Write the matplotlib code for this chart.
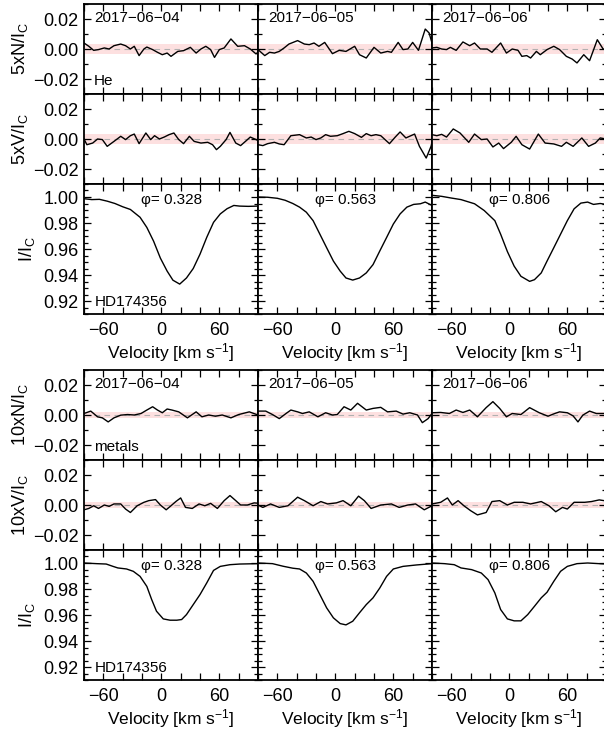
import numpy as np
import matplotlib
matplotlib.use('Agg')
import matplotlib.pyplot as plt
from matplotlib.ticker import MultipleLocator

plt.rcParams['font.family'] = ['Liberation Sans', 'DejaVu Sans']
plt.rcParams['mathtext.fontset'] = 'custom'
plt.rcParams['mathtext.rm'] = 'Liberation Sans'
plt.rcParams['mathtext.it'] = 'Liberation Sans'

dates = ['2017\u221206\u221204', '2017\u221206\u221205', '2017\u221206\u221206']
phases = ['0.328', '0.563', '0.806']
star = 'HD174356'

# ---- He lines: null profile N (x5), Stokes V (x5), Stokes I ----
he_N_vel = [
    [-80, -75, -70, -65, -59, -54, -49, -42, -37, -32, -28, -23, -18, -15, -9, -4, 1, 6, 10, 17, 23, 30, 36, 41, 46, 51, 55, 60, 65, 72, 79, 86, 92, 98, 100],
    [-80, -73, -68, -63, -58, -53, -48, -39, -32, -27, -22, -17, -11, -3, 4, 11, 20, 25, 32, 40, 47, 54, 58, 65, 70, 75, 80, 86, 93, 97, 100],
    [-80, -75, -70, -65, -61, -55, -48, -41, -36, -30, -23, -18, -9, -3, 3, 9, 13, 18, 22, 28, 32, 39, 46, 52, 59, 65, 70, 77, 83, 91, 97, 100],
]
he_N = [
    [0.004, 0.0018, -0.0009, -0.0004, 0.0007, 0, 0.0022, 0.0033, 0.0022, 0, 0.0018, -0.0044, 0, 0.0013, -0.0004, -0.0022, -0.0038, -0.0027, -0.0049, -0.0016, -0.0011, 0.0011, -0.0027, 0, 0.0018, -0.0004, -0.0056, -0.0004, 0.0007, 0.0067, 0.0018, 0.0022, 0, -0.0033, -0.002],
    [-0.0004, -0.0044, -0.0022, -0.0027, -0.0016, 0.0007, 0.0033, 0.0056, 0.0033, 0.0029, 0.004, 0.0018, 0.0044, -0.0031, -0.0009, -0.0016, 0.0018, -0.0038, -0.006, 0.0011, -0.0027, -0.0016, -0.0022, 0.0044, -0.0004, 0, 0.0044, -0.0009, 0.0133, 0.0107, 0.004],
    [0.0007, 0.0011, 0, -0.0004, 0.0011, -0.0009, 0.0047, 0.0022, 0.004, 0, 0, -0.0022, 0.004, -0.0027, 0, -0.0009, -0.0049, -0.0044, -0.006, -0.0016, -0.0038, -0.0004, 0.0018, -0.0004, -0.0049, -0.0067, -0.0093, -0.0038, -0.0078, 0.0062, 0, -0.0004],
]
he_V_vel = [
    [-80, -77, -71, -66, -61, -56, -49, -42, -37, -32, -28, -23, -16, -11, -7, -2, 3, 8, 13, 18, 23, 29, 34, 41, 48, 53, 57, 61, 67, 71, 77, 82, 87, 92, 98, 100],
    [-80, -75, -70, -63, -58, -53, -46, -37, -30, -25, -20, -15, -10, -5, 2, 8, 14, 20, 27, 32, 37, 42, 47, 56, 62, 67, 73, 82, 87, 94, 99, 100],
    [-80, -75, -70, -65, -58, -51, -42, -36, -29, -23, -17, -11, -6, 2, 7, 13, 21, 30, 37, 46, 54, 59, 66, 75, 82, 89, 94, 100],
]
he_V = [
    [0, -0.0038, -0.0027, 0, -0.0004, -0.0049, -0.0016, 0.0018, -0.0004, 0.0022, 0.0033, -0.0031, 0.004, -0.0004, 0.0022, 0, 0.0013, 0.0029, 0.004, -0.0004, -0.0031, 0.0018, -0.0016, -0.0027, -0.0022, -0.0038, -0.0071, -0.0049, -0.0004, 0.0044, -0.0027, -0.0044, -0.0016, 0.0013, -0.0004, -0.001],
    [-0.0038, -0.0044, -0.0031, -0.0022, -0.0033, -0.0038, 0.0022, 0.0029, 0.0007, 0.0013, -0.0004, 0.0007, 0.0029, 0.0018, 0.0022, 0.0036, 0.0051, 0.0036, 0.0011, 0.0036, 0.0022, 0.0029, 0.0022, -0.0031, 0.0013, 0.0047, 0.0007, 0.0033, -0.0049, -0.0127, -0.0049, -0.002],
    [0.0029, 0.0022, 0.0031, 0.0013, 0.0067, 0.004, -0.0022, 0.0033, -0.0004, 0, -0.0053, -0.0027, -0.0064, -0.0022, 0.0018, -0.0038, -0.0067, 0.0033, -0.0027, -0.0033, -0.0049, -0.0022, -0.0049, 0.0007, -0.0049, -0.0027, 0.0007, 0],
]
he_I_vel = [
    [-80, -72, -64, -56, -48, -40, -32, -22, -15, -8, -1, 6, 12, 19, 26, 33, 40, 47, 54, 61, 68, 75, 81, 90, 100],
    [-80, -70, -60, -52, -44, -37, -30, -23, -16, -9, -2, 5, 11, 18, 25, 32, 39, 46, 53, 60, 67, 74, 81, 88, 93, 100],
    [-80, -70, -60, -50, -36, -26, -15, -9, -2, 5, 12, 21, 26, 33, 39, 46, 53, 60, 67, 74, 81, 87, 94, 100],
]
he_I = [
    [0.9987, 0.998, 0.9982, 0.9968, 0.995, 0.9925, 0.9904, 0.9844, 0.9766, 0.966, 0.953, 0.943, 0.936, 0.933, 0.9377, 0.945, 0.956, 0.969, 0.9805, 0.987, 0.991, 0.9935, 0.993, 0.9928, 0.993],
    [1.0, 0.9998, 0.999, 0.9975, 0.995, 0.9922, 0.9883, 0.9818, 0.9714, 0.961, 0.9507, 0.943, 0.9377, 0.9361, 0.9377, 0.9416, 0.948, 0.9585, 0.9688, 0.9792, 0.987, 0.9922, 0.9943, 0.9948, 0.9961, 0.9935],
    [1.0013, 1.0005, 0.9992, 0.998, 0.9948, 0.9896, 0.9818, 0.9714, 0.958, 0.9468, 0.939, 0.9351, 0.9364, 0.9416, 0.9507, 0.961, 0.9714, 0.9818, 0.9909, 0.9953, 0.9961, 0.9943, 0.995, 0.9943],
]

# ---- metal lines: N (x10), V (x10), I ----
met_N_vel = [
    [-80, -73, -66, -61, -55, -49, -42, -35, -28, -21, -15, -9, -4, 1, 6, 11, 18, 27, 36, 42, 49, 56, 63, 72, 80, 91, 100],
    [-80, -72, -65, -58, -51, -46, -39, -34, -27, -18, -10, -3, 2, 9, 16, 23, 32, 39, 47, 54, 63, 70, 77, 85, 90, 96, 100],
    [-80, -71, -62, -55, -48, -41, -33, -24, -17, -10, -3, 3, 12, 21, 31, 40, 47, 52, 60, 66, 71, 76, 83, 90, 98, 100],
]
met_N = [
    [0.001, 0.0026, -0.0012, -0.0019, -0.0046, -0.0019, -0.0001, 0.0003, 0, 0.001, 0.0033, 0.0055, 0.0033, 0.0015, 0.004, 0.0033, 0.0021, -0.0019, 0.0021, -0.0012, 0, -0.0008, 0, -0.0019, 0.0003, 0.0021, 0],
    [0.0026, 0.0026, 0.0003, -0.0024, 0.001, 0.0033, 0.0021, 0.001, 0.0021, -0.0012, 0.0015, 0, 0.0003, 0.0055, 0.0033, 0.0078, 0.0033, 0.0044, 0.0051, 0.0021, 0.0026, 0.0006, 0.0015, 0, -0.0051, -0.0024, 0.001],
    [0.0015, 0.0017, 0.001, 0.0033, 0.0017, 0.0033, -0.0012, 0.0049, 0.0089, 0.0044, -0.0012, 0.001, 0.0003, 0.0049, 0.0015, -0.0008, 0.001, 0.0021, 0.0015, -0.0006, -0.0046, -0.0001, 0.0026, 0.001, 0.001, 0.001],
]
met_V_vel = [
    [-80, -75, -70, -65, -59, -54, -49, -42, -37, -32, -25, -18, -13, -6, -1, 5, 10, 15, 20, 25, 32, 39, 45, 51, 58, 65, 71, 77, 82, 89, 96, 100],
    [-80, -75, -67, -58, -49, -39, -32, -23, -15, -8, 1, 8, 16, 24, 30, 37, 47, 58, 66, 75, 83, 92, 100],
    [-80, -71, -64, -59, -53, -47, -40, -33, -24, -18, -10, -2, 5, 14, 22, 33, 41, 48, 55, 60, 67, 78, 85, 93, 98, 100],
]
met_V = [
    [-0.0032, -0.0023, -0.0005, -0.0023, 0, -0.0009, 0.0007, 0.0007, -0.0027, -0.005, -0.0005, 0.0018, 0.0029, 0.0036, 0, -0.0032, -0.0005, 0.0023, 0.0047, -0.0016, -0.0023, 0.0007, -0.0005, 0.0011, -0.0023, 0.0029, 0.0063, 0.0029, 0, 0, 0.0014, 0.0012],
    [0, -0.0016, 0.0007, -0.0016, -0.0005, 0.0052, 0.0029, -0.0005, 0.0023, 0.0007, 0.0014, 0.0029, -0.0005, 0.0059, 0.0029, -0.0023, 0, 0.0007, -0.0016, 0, 0.0007, -0.0032, -0.0005],
    [0.0007, 0.0018, 0.0047, 0, 0.0029, -0.0005, -0.0038, -0.0066, -0.005, 0.0023, 0.0029, 0, 0.0018, 0.0018, 0.0007, 0.0023, -0.0005, -0.0045, -0.0016, -0.0027, 0.0018, 0.0018, 0.0023, 0.0034, 0.0029, 0.0029],
]
met_I_vel = [
    [-80, -67, -57, -50, -45, -36, -29, -22, -15, -10, -5, 2, 9, 16, 21, 26, 33, 40, 47, 54, 61, 71, 81, 100],
    [-80, -65, -54, -44, -37, -30, -23, -16, -9, -2, 5, 11, 18, 25, 32, 39, 46, 53, 60, 70, 84, 100],
    [-80, -67, -57, -50, -39, -29, -22, -15, -9, -2, 5, 12, 19, 26, 33, 39, 46, 53, 60, 70, 81, 100],
]
met_I = [
    [1.0, 0.9995, 0.9992, 0.9974, 0.9962, 0.9954, 0.9936, 0.9897, 0.982, 0.9719, 0.9629, 0.957, 0.956, 0.956, 0.9565, 0.9603, 0.968, 0.9757, 0.9847, 0.9943, 0.9974, 0.9987, 0.9992, 0.9995],
    [1.0, 0.9995, 0.9975, 0.996, 0.9954, 0.9923, 0.9859, 0.9757, 0.9655, 0.9578, 0.9534, 0.9524, 0.9552, 0.9617, 0.968, 0.9732, 0.9808, 0.9897, 0.9954, 0.9974, 0.9985, 0.9995],
    [1.0, 0.9995, 0.9987, 0.9962, 0.9949, 0.9923, 0.9872, 0.977, 0.9642, 0.957, 0.9555, 0.9555, 0.9603, 0.9667, 0.9732, 0.9775, 0.9859, 0.9936, 0.9974, 0.9995, 1.0, 0.9992],
]

# 1-sigma noise band around zero
he_sigma = 0.0033
met_sigma = 0.0021

W, H = 604, 729
fig = plt.figure(figsize=(W / 100, H / 100), dpi=100)

col_left = [84, 258, 432]
col_w = 174


def make_ax(left, top, h):
    return fig.add_axes([left / W, 1 - (top + h) / H, col_w / W, h / H])


def style(ax, ylim, major, minor):
    ax.set_xlim(-80, 100)
    ax.set_ylim(*ylim)
    ax.xaxis.set_major_locator(MultipleLocator(60))
    ax.xaxis.set_minor_locator(MultipleLocator(20))
    ax.yaxis.set_major_locator(MultipleLocator(major))
    ax.yaxis.set_minor_locator(MultipleLocator(minor))
    ax.tick_params(which='both', direction='in', top=True, right=True,
                   labelsize=13, width=0.9, pad=4)
    ax.tick_params(which='major', length=5)
    ax.tick_params(which='minor', length=3)
    ax.tick_params(axis='x', which='minor', length=5)
    for s in ax.spines.values():
        s.set_linewidth(1.3)


def block(top, N_vel, N, V_vel, V, I_vel, I, sigma, factor, tag):
    for j in range(3):
        x0 = col_left[j]
        rows = [(N_vel[j], N[j], top, 'N'), (V_vel[j], V[j], top + 90, 'V')]
        for vel, val, t, kind in rows:
            ax = make_ax(x0, t, 90)
            ax.axhspan(-sigma, sigma, color='#fde0e0', lw=0, zorder=0)
            ax.axhline(0, color='#b0b0b0', lw=0.8, ls=(0, (5, 4)), zorder=1)
            ax.plot(vel, val, color='black', lw=1.0, zorder=2)
            style(ax, (-0.03, 0.03), 0.02, 0.01)
            ax.set_yticks([-0.02, 0.0, 0.02])
            ax.tick_params(labelbottom=False)
            if j == 0:
                ax.set_yticklabels(['\u22120.02', '0.00', '0.02'])
                ax.set_ylabel(f'{factor}x{kind}/I$_\\mathregular{{C}}$', fontsize=13)
                ax.yaxis.set_label_coords(-0.31, 0.5)
            else:
                ax.tick_params(labelleft=False)
            if kind == 'N':
                ax.text(0.057, 0.84, dates[j], transform=ax.transAxes,
                        fontsize=11, va='center', ha='left')
                if j == 0:
                    ax.text(0.057, 0.14, tag, transform=ax.transAxes,
                            fontsize=11, va='center', ha='left')
        ax = make_ax(x0, top + 180, 130)
        ax.plot(I_vel[j], I[j], color='black', lw=1.0)
        style(ax, (0.91, 1.01), 0.02, 0.005)
        ax.set_xticks([-60, 0, 60])
        ax.set_xticklabels(['\u221260', '0', '60'])
        ax.tick_params(axis='x', pad=6)
        ax.set_xlabel('Velocity [km s$^{\\mathregular{-1}}$]', fontsize=12.5, labelpad=1)
        ax.text(0.505, 0.88, '\u03c6= ' + phases[j], transform=ax.transAxes,
                fontsize=11, va='center', ha='center')
        if j == 0:
            ax.set_yticks([0.92, 0.94, 0.96, 0.98, 1.00])
            ax.set_yticklabels(['0.92', '0.94', '0.96', '0.98', '1.00'])
            ax.set_ylabel('I/I$_\\mathregular{C}$', fontsize=13)
            ax.yaxis.set_label_coords(-0.27, 0.5)
            ax.text(0.06, 0.09, star, transform=ax.transAxes,
                    fontsize=11, va='center', ha='left')
        else:
            ax.tick_params(labelleft=False)


block(4, he_N_vel, he_N, he_V_vel, he_V, he_I_vel, he_I, he_sigma, 5, 'He')
block(370, met_N_vel, met_N, met_V_vel, met_V, met_I_vel, met_I, met_sigma, 10, 'metals')

fig.savefig('out.png', dpi=100)
